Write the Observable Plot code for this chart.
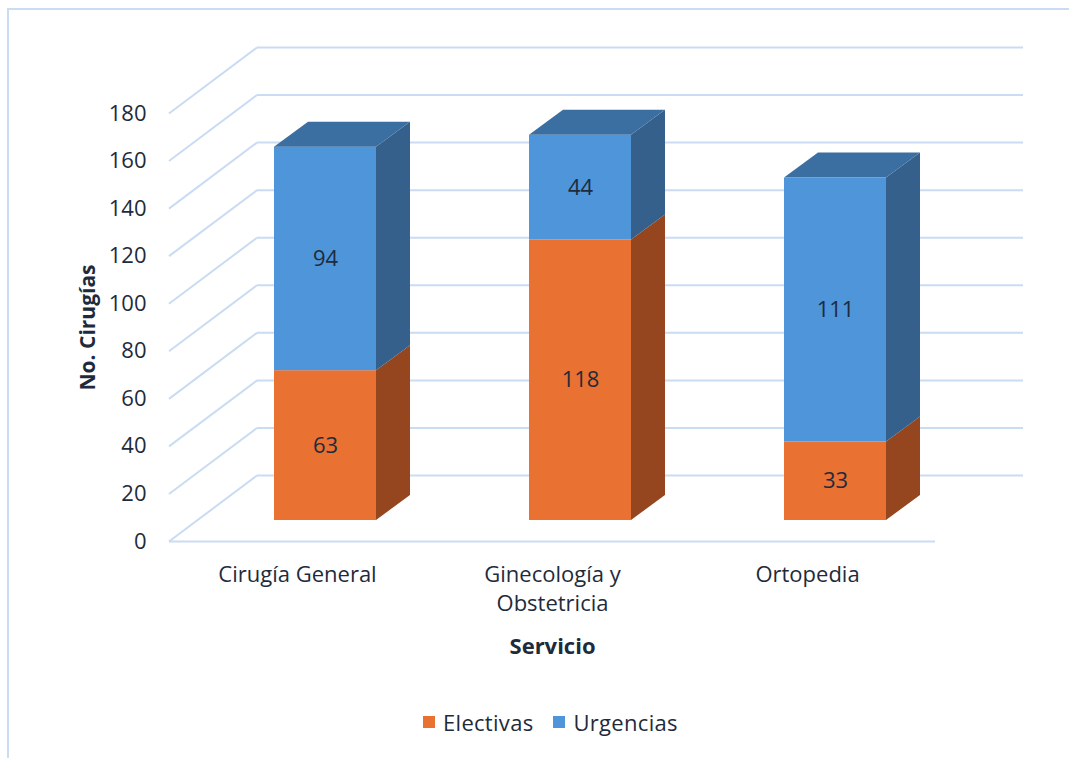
<!DOCTYPE html>
<html><head><meta charset="utf-8">
<script src="https://cdn.jsdelivr.net/npm/d3@7"></script>
<script src="https://cdn.jsdelivr.net/npm/@observablehq/plot@0.6"></script>
<style>
body{margin:0;background:#fff;font-family:"Open Sans",sans-serif;}
#wrap{position:relative;width:1069px;height:758px;overflow:hidden;background:#fff;}
#frame{position:absolute;left:7px;top:8px;width:1100px;height:800px;border-left:2px solid #c9dcf2;border-top:2px solid #c9dcf2;}
#chart{position:absolute;left:0;top:0;}
#legend{position:absolute;top:708px;left:423px;display:flex;align-items:center;font-size:22px;color:#1e2b3c;line-height:28px;letter-spacing:0.3px;}
#legend .sw{width:12px;height:12px;display:inline-block;margin-right:8px;}
#legend .item{display:flex;align-items:center;margin-right:20px;}
</style>
</head><body>
<div id="wrap"><div id="frame"></div><div id="chart"></div><div id="legend"></div></div>
<script>
const categories = ["Cirugía General", "Ginecología y Obstetricia", "Ortopedia"];
const categoryLabels = ["Cirugía General", "Ginecología y\nObstetricia", "Ortopedia"];
const series = ["Electivas", "Urgencias"];
const electivas = [63, 118, 33];
const urgencias = [94, 44, 111];
const yTicks = [0, 20, 40, 60, 80, 100, 120, 140, 160, 180];
const seriesColors = ["#e97132", "#4e95d9"];

const rows = [];
categories.forEach((c, i) => rows.push({category: c, series: series[0], value: electivas[i]}));
categories.forEach((c, i) => rows.push({category: c, series: series[1], value: urgencias[i]}));

const FLOOR = [88, -66], BAR = [28, -21], DEPTH = [34, -25];
const gridColor = "#c9dcf2";
const textColor = "#1e2b3c";

const plot = Plot.plot({
  width: 1069, height: 700,
  marginLeft: 169, marginRight: 134, marginTop: 113, marginBottom: 159,
  style: {fontFamily: "Open Sans", fontSize: "20px", color: textColor, background: "transparent", overflow: "visible"},
  x: {domain: categories, paddingInner: 0.6, paddingOuter: 0.3, axis: null},
  y: {domain: [0, 180], axis: null},
  color: {domain: series, range: seriesColors},
  marks: [
    Plot.ruleY(yTicks, {stroke: gridColor, strokeWidth: 2, dx: FLOOR[0], dy: FLOOR[1]}),
    Plot.ruleY(yTicks, {stroke: gridColor, strokeWidth: 2}),
    Plot.ruleY([0], {stroke: gridColor, strokeWidth: 2}),
    Plot.barY(rows, {x: "category", y: "value", fill: "series", dx: BAR[0], dy: BAR[1]}),
    Plot.text(rows, Plot.stackY({x: "category", y: "value", z: "series", text: d => String(d.value), dx: BAR[0], dy: BAR[1], fill: textColor, fontSize: 22})),
    Plot.text(yTicks, {y: d => d, text: d => String(d), frameAnchor: "left", textAnchor: "end", dx: -23, fill: textColor, fontSize: 22}),
    Plot.text(categories, {x: d => d, text: (d, i) => categoryLabels[i], frameAnchor: "bottom", lineAnchor: "top", dy: 20, lineHeight: 1.32, fill: textColor, fontSize: 22}),
    Plot.text(["No. Cirugías"], {frameAnchor: "left", textAnchor: "middle", rotate: -90, dx: -81, fontWeight: "bold", fill: textColor, fontSize: 21}),
    Plot.text(["Servicio"], {frameAnchor: "bottom", dy: 112, fontWeight: "bold", fill: textColor, fontSize: 22})
  ]
});
document.getElementById("chart").appendChild(plot);

const svg = d3.select(plot);
// oblique gridline segments (left wall): second rule mark
const ruleGroups = svg.selectAll('g[aria-label="rule"]').nodes();
if (ruleGroups.length >= 2) {
  d3.select(ruleGroups[1]).selectAll("line").each(function() {
    const l = d3.select(this);
    const x1 = +l.attr("x1"), y1 = +l.attr("y1");
    l.attr("x2", x1 + FLOOR[0]).attr("y2", y1 + FLOOR[1]);
  });
}
// 3D faces for bars
const sideColor = {"#e97132": "#95461f", "#4e95d9": "#34608b"};
const topColor = {"#e97132": "#b85a28", "#4e95d9": "#3b6fa2"};
const barNode = svg.select('g[aria-label="bar"]').node();
if (barNode) {
  const g = d3.select(barNode);
  const rects = g.selectAll("rect").nodes().map(n => ({
    x: +n.getAttribute("x"), y: +n.getAttribute("y"),
    w: +n.getAttribute("width"), h: +n.getAttribute("height"),
    fill: (n.getAttribute("fill") || "").toLowerCase()
  }));
  rects.forEach(r => {
    const xr = r.x + r.w, yt = r.y, yb = r.y + r.h;
    g.append("polygon")
      .attr("points", [[xr, yt], [xr + DEPTH[0], yt + DEPTH[1]], [xr + DEPTH[0], yb + DEPTH[1]], [xr, yb]].map(p => p.join(",")).join(" "))
      .attr("fill", sideColor[r.fill] || "#333");
    const covered = rects.some(o => o !== r && Math.abs(o.x - r.x) < 1 && Math.abs(o.y + o.h - yt) < 1);
    if (!covered) {
      g.append("polygon")
        .attr("points", [[r.x, yt], [xr, yt], [xr + DEPTH[0], yt + DEPTH[1]], [r.x + DEPTH[0], yt + DEPTH[1]]].map(p => p.join(",")).join(" "))
        .attr("fill", topColor[r.fill] || "#333");
    }
  });
}

const legend = document.getElementById("legend");
series.forEach((s, i) => {
  const it = document.createElement("div");
  it.className = "item";
  it.innerHTML = `<span class="sw" style="background:${seriesColors[i]}"></span><span>${s}</span>`;
  legend.appendChild(it);
});
</script>
</body></html>
